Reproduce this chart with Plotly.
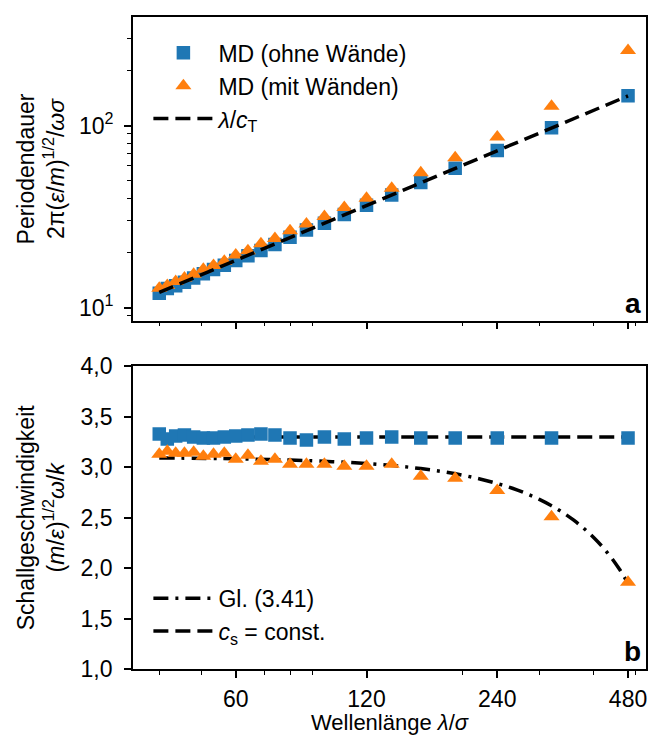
import plotly.graph_objects as go

# ---------------- data ----------------
wavelength = [40.0, 41.74, 43.64, 45.71, 48.0, 50.53, 53.33, 56.47, 60.0, 64.0,
              68.57, 73.85, 80.0, 87.27, 96.0, 106.67, 120.0, 137.14, 160.0,
              192.0, 240.0, 320.0, 480.0]

period_ohne = [12.01, 12.73, 13.18, 13.77, 14.55, 15.36, 16.21, 17.11, 18.13,
               19.28, 20.59, 22.24, 24.32, 26.69, 29.09, 32.52, 36.47, 41.56,
               48.63, 58.36, 72.95, 97.26, 145.9]
period_mit = [12.78, 13.21, 13.90, 14.56, 15.24, 16.25, 17.04, 17.98, 19.48,
              20.51, 22.41, 23.98, 26.40, 28.80, 31.68, 35.44, 39.87, 45.26,
              54.98, 66.44, 86.64, 127.5, 258.1]

speed_ohne = [3.33, 3.28, 3.31, 3.32, 3.30, 3.29, 3.29, 3.30, 3.31, 3.32, 3.33,
              3.32, 3.29, 3.27, 3.30, 3.28, 3.29, 3.30, 3.29, 3.29, 3.29, 3.29,
              3.29]
speed_mit = [3.13, 3.16, 3.14, 3.14, 3.15, 3.11, 3.13, 3.14, 3.08, 3.12, 3.06,
             3.08, 3.03, 3.03, 3.03, 3.01, 3.01, 3.03, 2.91, 2.89, 2.77, 2.51,
             1.86]

fit_wavelength = [40.0, 480.0]
fit_period = [12.12, 145.45]

cs_wavelength = [40.0, 480.0]
cs_speed = [3.30, 3.30]

gl_wavelength = [40, 60, 80, 100, 120, 140, 160, 180, 200, 220, 240, 260, 280,
                 300, 320, 340, 360, 380, 400, 420, 440, 460, 480]
gl_speed = [3.093, 3.084, 3.072, 3.056, 3.037, 3.014, 2.987, 2.956, 2.921,
            2.882, 2.839, 2.792, 2.739, 2.682, 2.619, 2.550, 2.475, 2.393,
            2.304, 2.207, 2.100, 1.981, 1.849]

x_tickvals = [60, 120, 240, 480]
x_ticktext = ["60", "120", "240", "480"]
x_minor = [40, 50, 70, 80, 90, 200, 300, 400, 500]

y1_tickvals = [10, 100]
y1_ticktext = ["10<sup>1</sup>", "10<sup>2</sup>"]
y1_minor = [9, 20, 30, 40, 50, 60, 70, 80, 90, 200, 300]

y2_tickvals = [1.0, 1.5, 2.0, 2.5, 3.0, 3.5, 4.0]
y2_ticktext = ["1,0", "1,5", "2,0", "2,5", "3,0", "3,5", "4,0"]

# ---------------- style ----------------
BLUE = "#1f77b4"
ORANGE = "#ff7f0e"
FONT = "Liberation Sans, Arial, sans-serif"
FS = 23

fig = go.Figure()

# top panel
fig.add_trace(go.Scatter(x=wavelength, y=period_ohne, mode="markers",
                         name="MD (ohne Wände)",
                         marker=dict(symbol="square", size=13.5, color=BLUE),
                         xaxis="x", yaxis="y", legend="legend"))
fig.add_trace(go.Scatter(x=wavelength, y=period_mit, mode="markers",
                         name="MD (mit Wänden)",
                         marker=dict(symbol="triangle-up", size=14, color=ORANGE),
                         xaxis="x", yaxis="y", legend="legend"))
fig.add_trace(go.Scatter(x=fit_wavelength, y=fit_period, mode="lines",
                         name="<i>λ</i>/<i>c</i><sub>T</sub>",
                         line=dict(color="black", width=3.5, dash="15px,7px"),
                         xaxis="x", yaxis="y", legend="legend"))

# bottom panel
fig.add_trace(go.Scatter(x=gl_wavelength, y=gl_speed, mode="lines",
                         name="Gl. (3.41)", line_shape="spline",
                         line=dict(color="black", width=3.5,
                                   dash="15px,7px,3px,7px"),
                         xaxis="x2", yaxis="y2", legend="legend2"))
fig.add_trace(go.Scatter(x=cs_wavelength, y=cs_speed, mode="lines",
                         name="<i>c</i><sub>s</sub> = const.",
                         line=dict(color="black", width=3.5, dash="15px,7px"),
                         xaxis="x2", yaxis="y2", legend="legend2"))
fig.add_trace(go.Scatter(x=wavelength, y=speed_ohne, mode="markers",
                         showlegend=False,
                         marker=dict(symbol="square", size=13.5, color=BLUE),
                         xaxis="x2", yaxis="y2"))
fig.add_trace(go.Scatter(x=wavelength, y=speed_mit, mode="markers",
                         showlegend=False,
                         marker=dict(symbol="triangle-up", size=14, color=ORANGE),
                         xaxis="x2", yaxis="y2"))

xr = [1.5416, 2.7226]
axis_common = dict(showline=True, linecolor="black", linewidth=1.8, mirror=True,
                   ticks="outside", ticklen=7, tickwidth=1.8, tickcolor="black",
                   showgrid=False, zeroline=False,
                   tickfont=dict(family=FONT, size=FS, color="black"))
minor_common = dict(ticks="outside", ticklen=4, tickwidth=1.4, tickcolor="black",
                    showgrid=False)

fig.update_layout(
    width=652, height=738,
    margin=dict(l=133, r=4, t=16, b=69),
    paper_bgcolor="white", plot_bgcolor="white",
    font=dict(family=FONT, size=FS, color="black"),
    xaxis=dict(type="log", range=xr, domain=[0, 1], anchor="y",
               tickmode="array", tickvals=x_tickvals, ticktext=x_ticktext,
               showticklabels=False,
               minor=dict(tickmode="array", tickvals=x_minor, **minor_common),
               **axis_common),
    yaxis=dict(type="log", range=[0.929, 2.596], domain=[0.5344, 1.0],
               anchor="x", tickmode="array", tickvals=y1_tickvals,
               ticktext=y1_ticktext, ticklabelstandoff=6,
               minor=dict(tickmode="array", tickvals=y1_minor, **minor_common),
               **axis_common),
    xaxis2=dict(type="log", range=xr, domain=[0, 1], anchor="y2",
                matches="x", ticklabelstandoff=1,
                tickmode="array", tickvals=x_tickvals, ticktext=x_ticktext,
                minor=dict(tickmode="array", tickvals=x_minor, **minor_common),
                **axis_common),
    yaxis2=dict(range=[1.0, 4.0], domain=[0, 0.4641], anchor="x2",
                tickmode="array", tickvals=y2_tickvals, ticktext=y2_ticktext,
                ticklabelstandoff=7,
                **axis_common),
    legend=dict(x=0.03, y=0.978, xanchor="left", yanchor="top",
                bgcolor="rgba(0,0,0,0)", font=dict(family=FONT, size=FS),
                itemwidth=60, tracegroupgap=0),
    legend2=dict(x=0.03, y=0.025, xanchor="left", yanchor="bottom",
                 bgcolor="rgba(0,0,0,0)", font=dict(family=FONT, size=FS),
                 itemwidth=60, tracegroupgap=0),
    annotations=[
        dict(text="<b>a</b>", xref="x domain", yref="y domain", x=0.995, y=0.0,
             xanchor="right", yanchor="bottom", showarrow=False,
             font=dict(family=FONT, size=28)),
        dict(text="<b>b</b>", xref="x2 domain", yref="y2 domain", x=0.995, y=0.0,
             xanchor="right", yanchor="bottom", showarrow=False,
             font=dict(family=FONT, size=28)),
        dict(text="Periodendauer<br>2π(<i>ε</i>/<i>m</i>)<sup>1/2</sup>/<i>ωσ</i>",
             xref="paper", yref="y domain", x=-0.18, y=0.5, textangle=-90,
             xanchor="center", yanchor="middle",
             showarrow=False, font=dict(family=FONT, size=FS)),
        dict(text="Schallgeschwindigkeit<br>(<i>m</i>/<i>ε</i>)<sup>1/2</sup><i>ω</i>/<i>k</i>",
             xref="paper", yref="y2 domain", x=-0.18, y=0.5, textangle=-90,
             xanchor="center", yanchor="middle",
             showarrow=False, font=dict(family=FONT, size=FS)),
        dict(text="Wellenlänge <i>λ</i>/<i>σ</i>",
             xref="x2 domain", yref="paper", x=0.5, y=-0.1035,
             xanchor="center", yanchor="bottom", borderpad=0,
             showarrow=False, font=dict(family=FONT, size=22)),
    ],
)

fig.write_html("out.html")
